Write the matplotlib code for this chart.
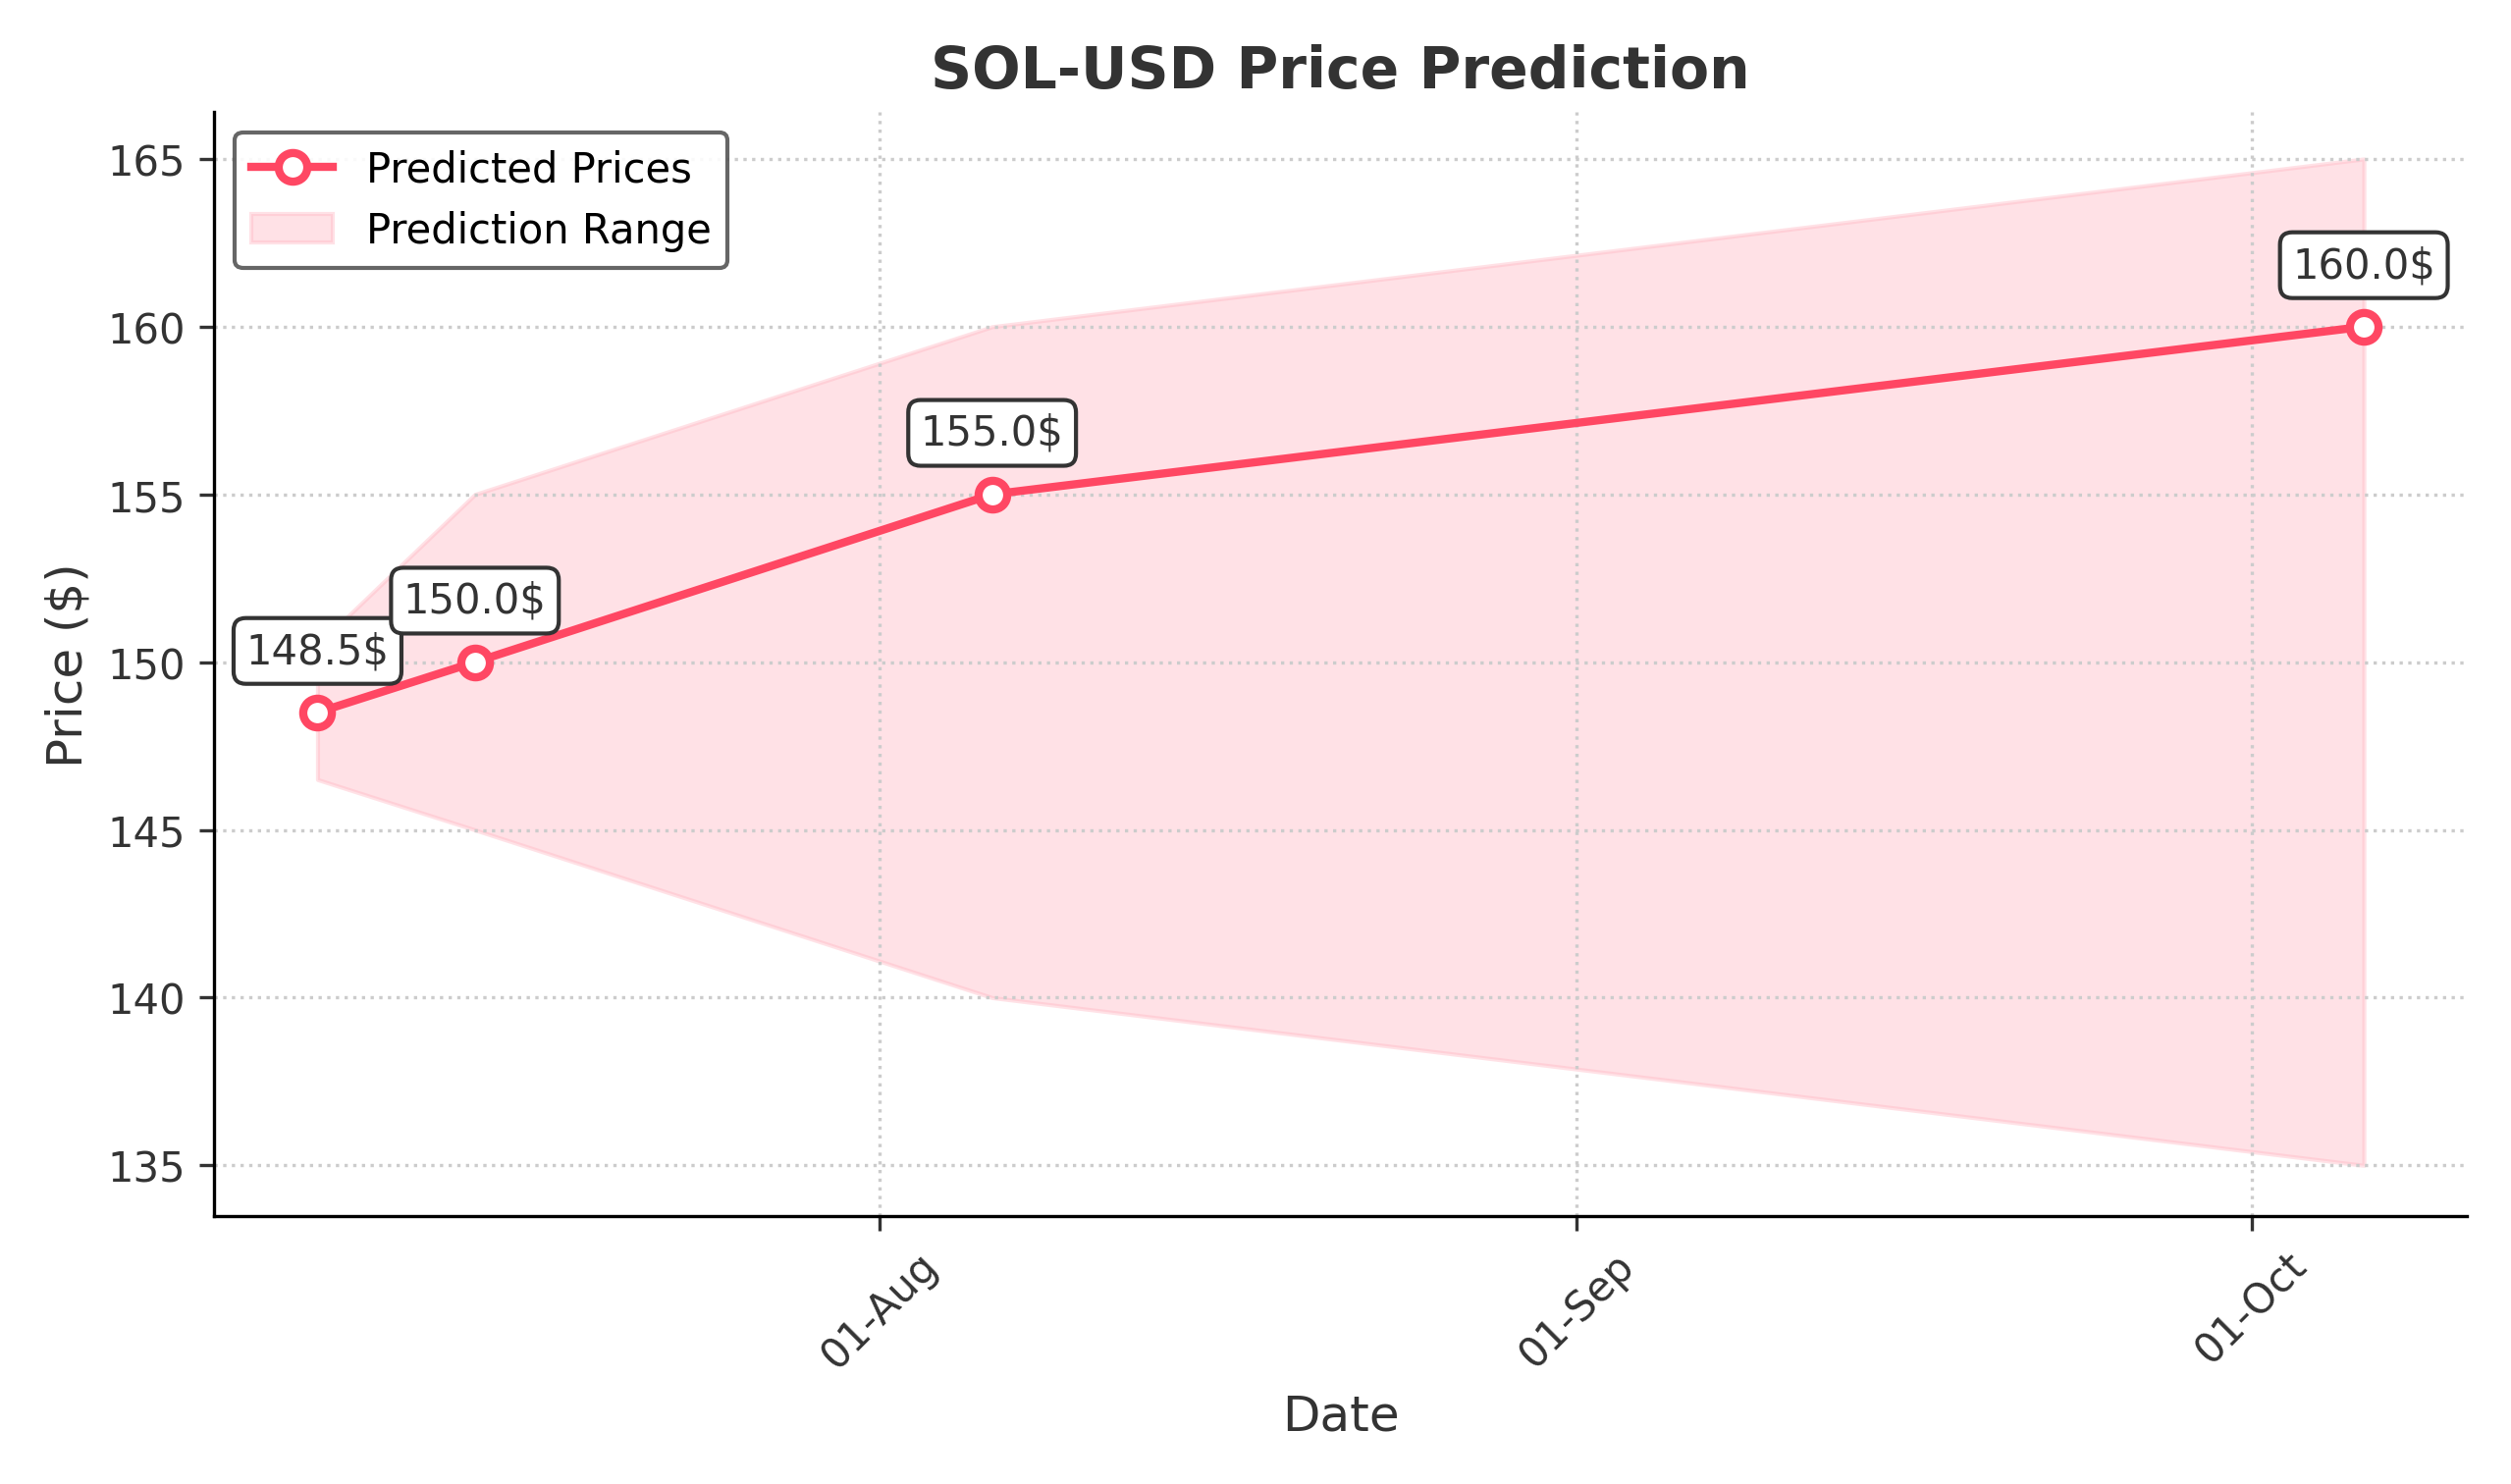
import matplotlib
matplotlib.use("Agg")
import matplotlib.pyplot as plt
import matplotlib.dates as mdates
import pandas as pd

dates = ["2024-07-07", "2024-07-14", "2024-08-06", "2024-10-06"]
predicted = [148.5, 150.0, 155.0, 160.0]
lower = [146.5, 145.0, 140.0, 135.0]
upper = [150.5, 155.0, 160.0, 165.0]

x = pd.to_datetime(dates)
fig, ax = plt.subplots(figsize=(8.527, 5.043), dpi=300)
color = "#ff4763"
line, = ax.plot(x, predicted, color=color, lw=2, marker="o", markersize=7,
                markerfacecolor="white", markeredgewidth=2, label="Predicted Prices", zorder=3)
band = ax.fill_between(x, lower, upper, color="#ffb6c1", alpha=0.4, label="Prediction Range")
for xi, yi in zip(x, predicted):
    ax.annotate(f"{yi}$", (xi, yi), xytext=(0, 10), textcoords="offset points",
                ha="center", va="bottom", fontsize=10, color="#333333",
                bbox=dict(boxstyle="round,pad=0.3", fc="white", ec="#333333", lw=1))
ax.set_title("SOL-USD Price Prediction", fontsize=14, fontweight="bold", color="#333333")
ax.set_xlabel("Date", fontsize=12, color="#333333")
ax.set_ylabel("Price ($)", fontsize=12, color="#333333")
ax.xaxis.set_major_locator(mdates.MonthLocator())
ax.xaxis.set_major_formatter(mdates.DateFormatter("%d-%b"))
plt.setp(ax.get_xticklabels(), rotation=45)
ax.tick_params(labelsize=10, colors="#333333")
ax.grid(True, linestyle=":", color="#cccccc", lw=0.8)
ax.set_ylim(133.5, 166.4)
ax.set_xlim(pd.Timestamp("2024-07-02 10:00"), pd.Timestamp("2024-10-10 14:00"))
for s in ["top", "right"]:
    ax.spines[s].set_visible(False)
ax.legend(handles=[line, band], loc="upper left", fontsize=10, framealpha=0.9,
          edgecolor="#555555", fancybox=True)
fig.tight_layout()
fig.savefig("out.png")
